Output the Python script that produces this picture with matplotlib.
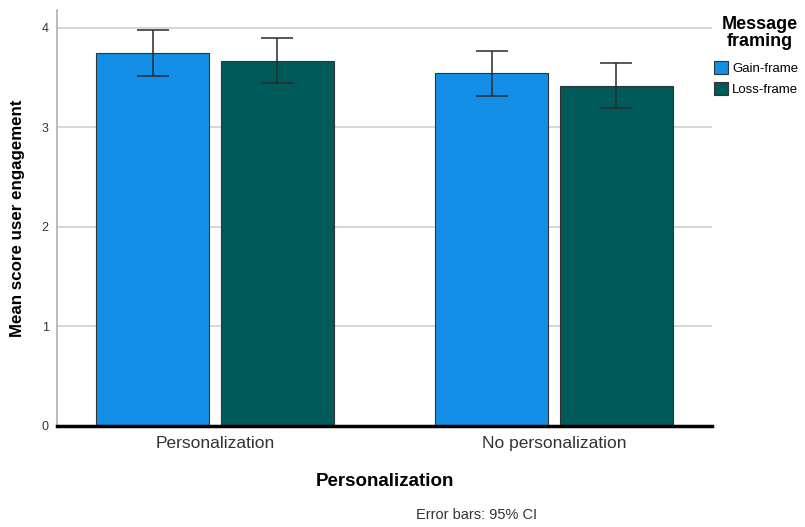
import matplotlib

matplotlib.use("Agg")
import matplotlib.pyplot as plt
import numpy as np
from matplotlib.patches import Patch

groups = ["Personalization", "No personalization"]
series = ["Gain-frame", "Loss-frame"]
means = {
    "Gain-frame": [3.75, 3.55],
    "Loss-frame": [3.67, 3.42],
}
ci_low = {
    "Gain-frame": [3.52, 3.32],
    "Loss-frame": [3.45, 3.20],
}
ci_high = {
    "Gain-frame": [3.98, 3.77],
    "Loss-frame": [3.90, 3.65],
}
colors = {"Gain-frame": "#128ee6", "Loss-frame": "#005a5a"}
y_ticks = [0, 1, 2, 3, 4]

plt.rcParams["font.family"] = ["Liberation Sans", "DejaVu Sans"]

fig = plt.figure(figsize=(8.05, 5.27), dpi=100)
ax = fig.add_axes((57 / 805, 1 - 426 / 527, (712 - 57) / 805, (426 - 10) / 527))

x = np.arange(len(groups))
width = 0.333
offsets = [-0.184, 0.184]
for s, off in zip(series, offsets):
    m = np.array(means[s])
    lo = m - np.array(ci_low[s])
    hi = np.array(ci_high[s]) - m
    ax.bar(x + off, m, width, color=colors[s], edgecolor="#333333", linewidth=0.8, zorder=2)
    ax.errorbar(x + off, m, yerr=[lo, hi], fmt="none", ecolor="#2a2a2a",
                elinewidth=1.1, capsize=11.5, capthick=1.1, zorder=3)

ax.set_xlim(-0.466, 1.466)
ax.set_ylim(0, 4.18)
ax.set_yticks(y_ticks)
ax.set_yticklabels([str(t) for t in y_ticks], fontsize=9, color="#333333")
ax.set_xticks(x)
ax.set_xticklabels(groups, fontsize=12.5, color="#333333")
ax.tick_params(axis="both", length=0)
ax.tick_params(axis="y", pad=6)
ax.tick_params(axis="x", pad=7)
ax.yaxis.grid(True, color="#d0d0d0", linewidth=1.2, zorder=0)
ax.set_axisbelow(True)
for sp in ("top", "right"):
    ax.spines[sp].set_visible(False)
ax.spines["left"].set_color("#b0b0b0")
ax.spines["left"].set_linewidth(1.2)
ax.spines["bottom"].set_color("black")
ax.spines["bottom"].set_linewidth(2.5)
ax.spines["bottom"].set_zorder(4)

ax.set_xlabel("Personalization", fontsize=13.5, fontweight="bold", labelpad=16)
ax.set_ylabel("Mean score user engagement", fontsize=12.2, fontweight="bold", labelpad=12)

# legend title drawn separately so the gap above the entries matches
fig.text(760 / 805, 1 - 33 / 527, "Message\nframing", fontsize=13, fontweight="bold",
         ha="center", va="center", multialignment="center", linespacing=0.95)
handles = [Patch(facecolor=colors[s], edgecolor="#333333", linewidth=0.8) for s in series]
fig.legend(handles, series, loc="upper left",
           bbox_to_anchor=(713 / 805, 1 - 60 / 527), frameon=False, fontsize=9.5,
           handlelength=1.05, handleheight=1.15, handletextpad=0.3, labelspacing=0.5,
           borderaxespad=0, borderpad=0.1)

fig.text(477 / 805, 1 - 515 / 527, "Error bars: 95% CI", fontsize=10.5, ha="center",
         va="center", color="#333333")

fig.savefig("out.png", dpi=100)
